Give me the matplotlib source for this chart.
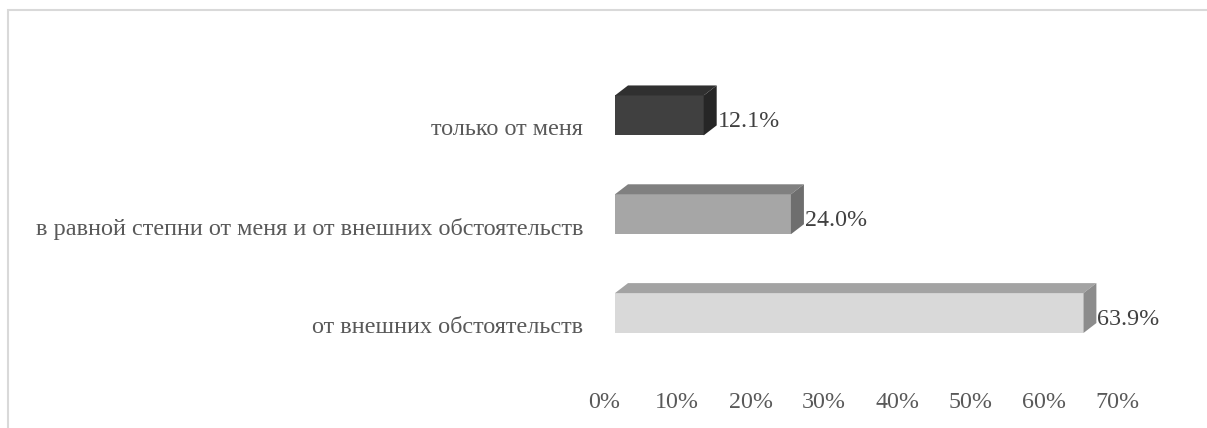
import matplotlib
matplotlib.use("Agg")
import matplotlib.pyplot as plt
from matplotlib.transforms import ScaledTranslation
from matplotlib.patches import Rectangle

categories = ["от внешних обстоятельств",
              "в равной степни от меня и от внешних обстоятельств",
              "только от меня"]
values = [63.9, 24.0, 12.1]
value_labels = ["63.9%", "24.0%", "12.1%"]
xticks = [0, 10, 20, 30, 40, 50, 60, 70]
xtick_labels = ["0%", "10%", "20%", "30%", "40%", "50%", "60%", "70%"]

front_colors = ["#d9d9d9", "#a6a6a6", "#404040"]
top_colors = ["#a3a3a3", "#808080", "#303030"]
side_colors = ["#8c8c8c", "#6e6e6e", "#262626"]

W, H, DPI = 1207, 428, 100
fig = plt.figure(figsize=(W / DPI, H / DPI), dpi=DPI)
plt.rcParams['font.family'] = ['Liberation Serif', 'DejaVu Serif']

# outer chart border (left/top visible)
fig.patches.append(Rectangle((8 / W, -0.1), 1.2, (H - 10) / H + 0.1,
                             transform=fig.transFigure, fill=False,
                             edgecolor="#d9d9d9", linewidth=1.5))

left_px, right_px = 615, 615 + 70 * 7.33
top_px, bot_px = 66, 362.5
ax = fig.add_axes([left_px / W, (H - bot_px) / H, (right_px - left_px) / W,
                   (bot_px - top_px) / H])
ax.set_xlim(0, 70)
ax.set_ylim(-0.5, 2.5)
for s in ax.spines.values():
    s.set_visible(False)
ax.patch.set_alpha(0)

ypos = list(range(len(categories)))
bh = 40 / 99
px_x = (right_px - left_px) / 70.0
px_y = (bot_px - top_px) / 3.0
dx = 13 / px_x
dy = 10 / px_y

for y, v, fc, tc, sc in zip(ypos, values, front_colors, top_colors, side_colors):
    ax.barh(y, v, height=bh, color=fc, edgecolor="none", zorder=3)
    yt = y + bh / 2
    yb = y - bh / 2
    ax.fill([0, v, v + dx, dx], [yt, yt, yt + dy, yt + dy], color=tc, lw=0, zorder=3)
    ax.fill([v, v + dx, v + dx, v], [yb, yb + dy, yt + dy, yt], color=sc, lw=0, zorder=3)

for y, v, lab in zip(ypos, values, value_labels):
    ax.annotate(lab, xy=(v + dx, y), xytext=(1, -6), textcoords="offset pixels",
                ha="left", va="center", fontsize=17.3, color="#404040", zorder=4)

ax.set_xticks(xticks)
ax.set_xticklabels(xtick_labels, fontsize=17.3, color="#595959")
ax.set_yticks(ypos)
ax.set_yticklabels(categories, fontsize=17.5, color="#595959")
ax.tick_params(axis="x", length=0, pad=21)
ax.tick_params(axis="y", length=0, pad=23)
for lab in ax.get_xticklabels():
    lab.set_transform(lab.get_transform() + ScaledTranslation(-11 / DPI, 0, fig.dpi_scale_trans))
for lab in ax.get_yticklabels():
    lab.set_transform(lab.get_transform() + ScaledTranslation(0, -12 / DPI, fig.dpi_scale_trans))

fig.savefig("out.png", dpi=DPI)
